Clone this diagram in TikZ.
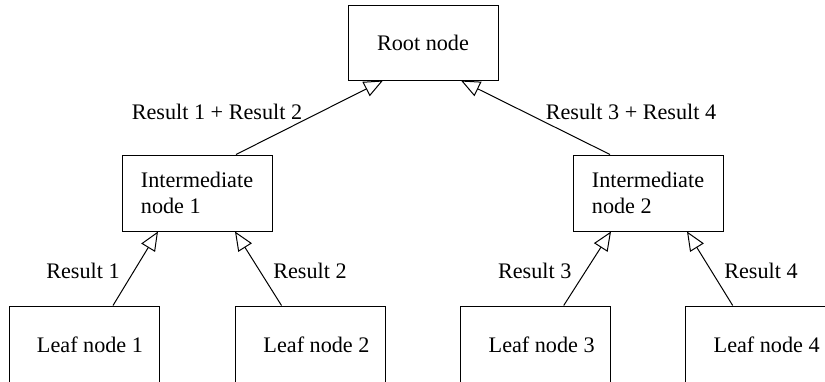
\documentclass[tikz,border=0pt]{standalone}
\usepackage{fontspec}
\setmainfont{Liberation Serif}
\usetikzlibrary{arrows.meta}

\begin{document}
\begin{tikzpicture}[x=0.5pt,y=-0.5pt,
  font=\fontsize{11.1}{13.3}\selectfont,
  box/.style={draw,line width=0.5pt,minimum width=75pt,minimum height=37.5pt,align=left},
  leaf/.style={box,minimum height=39pt,execute at begin node=\hspace*{6pt}},
  res/.style={draw,line width=0.5pt,-{Triangle[open,length=9.5pt,width=8pt]}}]

\useasboundingbox (0,0) rectangle (825,381);

\node[box] (root) at (423,42.5) {Root node};
\node[box,minimum height=38pt] (int1) at (197,193) {Intermediate\\node 1};
\node[box,minimum height=38pt] (int2) at (648,193) {Intermediate\\node 2};

\node[leaf] (leaf1) at (84,345) {Leaf node 1};
\node[leaf] (leaf2) at (310.5,345) {Leaf node 2};
\node[leaf] (leaf3) at (535.7,345) {Leaf node 3};
\node[leaf] (leaf4) at (760.7,345) {Leaf node 4};

\draw[res] ([xshift=19.5pt]int1.north) -- ([xshift=-20pt]root.south);
\draw[res] ([xshift=-19pt]int2.north) -- ([xshift=19pt]root.south);
\draw[res] ([xshift=14.5pt]leaf1.north) -- ([xshift=-19.5pt]int1.south);
\draw[res] ([xshift=-14.5pt]leaf2.north) -- ([xshift=19pt]int1.south);
\draw[res] ([xshift=14pt]leaf3.north) -- ([xshift=-18.5pt]int2.south);
\draw[res] ([xshift=-14pt]leaf4.north) -- ([xshift=19.5pt]int2.south);

\node (r12) at (217,112) {Result 1 + Result 2};
\node (r34) at (631,112) {Result 3 + Result 4};
\node (r1) at (83,271) {Result 1};
\node (r2) at (310,271) {Result 2};
\node (r3) at (534.7,271) {Result 3};
\node (r4) at (761,271) {Result 4};

\end{tikzpicture}
\end{document}
